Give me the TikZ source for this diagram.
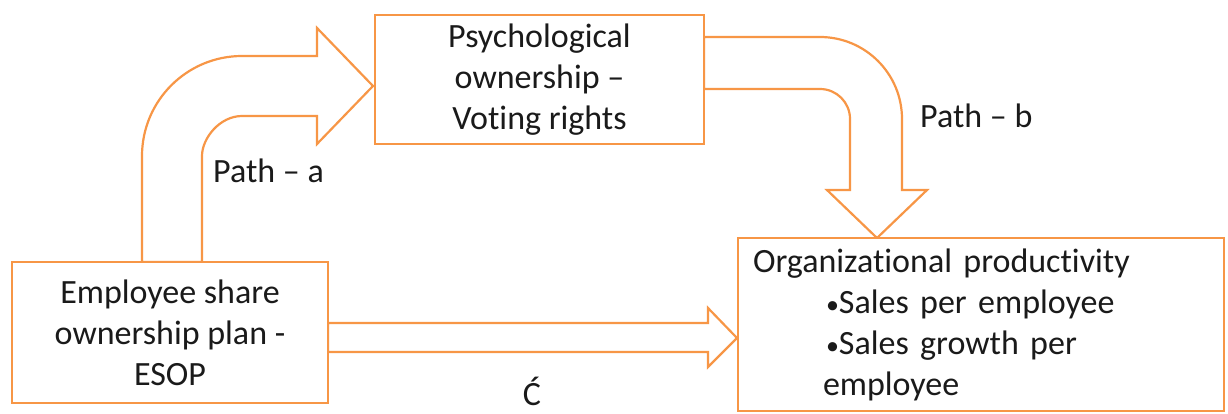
\documentclass[tikz,border=0pt]{standalone}
\usepackage{fontspec}
\setmainfont{Carlito}[Ligatures={NoCommon,NoContextual},Contextuals=NoAlternate]
\definecolor{orng}{HTML}{F79646}
\definecolor{txt}{HTML}{1A1A1A}
\newcommand{\smbul}{{\fontsize{26}{41}\selectfont•}}
\begin{document}
\begin{tikzpicture}[x=1pt,y=-1pt,
  box/.style={draw=orng,line width=2.6pt,fill=white,text=txt,inner sep=0pt,
    font=\fontsize{34}{41}\selectfont},
  blockarrow/.style={draw=orng,line width=2.2pt,fill=white,line join=miter},
  lbl/.style={text=txt,font=\fontsize{34}{41}\selectfont,inner sep=0pt}]
\useasboundingbox (0,0) rectangle (1228,413);
% block arrows
\draw[blockarrow] (142,262) -- (142,156) .. controls (142,100.8) and (186.8,56) .. (242,56)
  -- (317,56) -- (317,28) -- (373,86) -- (317,144) -- (317,116) -- (242,116)
  .. controls (219.9,116) and (202,138.1) .. (202,156) -- (202,262) -- cycle;
\draw[blockarrow] (704,37) -- (820,37) .. controls (865.3,37) and (902,73.7) .. (902,119)
  -- (902,190) -- (927,190) -- (877,238) -- (827,190) -- (850,190) -- (850,119)
  .. controls (850,102.4) and (836.6,89) .. (820,89) -- (704,89) -- cycle;
\draw[blockarrow] (328,323) -- (708,323) -- (708,308) -- (737,338) -- (708,367)
  -- (708,352) -- (328,352) -- cycle;
% boxes
\node[box,minimum width=316,minimum height=141,align=center] (esop) at (170,332.5)
  {Employee share\\ownership plan -\\ESOP};
\node[box,minimum width=329,minimum height=129,align=center] (psy) at (539.5,79.5)
  {Psychological\\ownership –\\Voting rights};
\node[box,minimum width=486,minimum height=173,text width=456,inner xsep=15,align=left]
  (org) at (981,324.5)
  {Organizational productivity\\\hspace*{73pt}\smbul Sales per employee\\\hspace*{73pt}\smbul Sales growth per\\\hspace*{70pt}employee};
% labels
\node[lbl,anchor=base west] (pa) at (213,182) {Path – a};
\node[lbl,anchor=base west] (pb) at (920,127) {Path – b};
\node[lbl,anchor=base] (pc) at (532,405) {Ć};
\end{tikzpicture}
\end{document}
